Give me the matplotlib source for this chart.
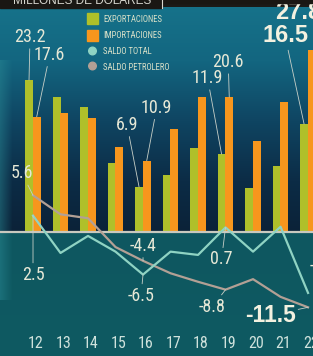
import numpy as np
import matplotlib
matplotlib.use("Agg")
import matplotlib.pyplot as plt
from matplotlib import font_manager
from matplotlib.colors import to_rgb

# datos (miles de millones de dolares)
anios = [12, 13, 14, 15, 16, 17, 18, 19, 20, 21, 22]
exportaciones = [23.2, 20.6, 19.1, 10.5, 6.9, 8.7, 12.8, 11.9, 6.7, 10.1, 16.5]
importaciones = [17.6, 18.2, 17.4, 13.0, 10.9, 15.7, 20.6, 20.6, 13.9, 19.9, 27.8]
saldo_total = [2.5, -3.2, -0.6, -3.0, -6.5, -3.0, -3.5, 0.7, -3.0, 0.8, -9.3]
saldo_petrolero = [5.6, 2.7, 2.1, -2.3, -4.4, -6.3, -7.6, -8.8, -7.2, -9.9, -11.5]
leyenda = ["EXPORTACIONES", "IMPORTACIONES", "SALDO TOTAL", "SALDO PETROLERO"]

VERDE = "#afc02a"
NARANJA = "#f7961d"
C_TOTAL = "#8fd3c3"
C_PETRO = "#b3a095"
TXT = "#e6e8d6"

# fuente estrecha si la hay
nombres = {f.name for f in font_manager.fontManager.ttflist}
NARROW = [n for n in ["Liberation Sans Narrow", "Roboto Condensed", "Liberation Sans"]
          if n in nombres][:1] + ["DejaVu Sans"]

W, H = 313, 356
fig = plt.figure(figsize=(W / 100, H / 100), dpi=100)

# fondo degradado
stops = [(0, "#1c1a17"), (6, "#1c1a17"), (7, "#16728a"), (60, "#136680"),
         (120, "#0f4562"), (180, "#0c2c46"), (231, "#0b2238"),
         (232, "#0e5760"), (356, "#0e5a62")]
rows = np.arange(H)
ys = [s[0] for s in stops]
cols = np.array([to_rgb(s[1]) for s in stops])
grad = np.stack([np.interp(rows, ys, cols[:, k]) for k in range(3)], axis=1)
bg = np.repeat(grad[:, None, :], W, axis=1)
light = np.array(to_rgb("#2a8a95"))
for x in range(12):
    w = (1 - x / 12) * 0.45
    bg[60:300, x, :] = bg[60:300, x, :] * (1 - w) + light * w
axbg = fig.add_axes([0, 0, 1, 1])
axbg.imshow(bg, extent=(0, W, H, 0), aspect="auto")
axbg.set_xlim(0, W)
axbg.set_ylim(H, 0)
axbg.axis("off")

# grafico principal
ax = fig.add_axes([0, 0, 1, 1], facecolor="none")
x = np.array(anios, dtype=float)
ax.bar(x - 0.145, exportaciones, width=0.29, color=VERDE, zorder=2)
ax.bar(x + 0.135, importaciones, width=0.28, color=NARANJA, zorder=2)
ax.axhline(0, color="#c9c9bf", lw=1.6, zorder=3)
ax.plot(x, saldo_petrolero, color=C_PETRO, lw=1.6, zorder=4)
ax.plot(x, saldo_total, color=C_TOTAL, lw=1.6, zorder=5)
ax.set_xlim(10.8, 22.18)
ax.set_ylim(-124 / 6.55, 232 / 6.55)
ax.axis("off")

for a in anios:
    ax.text(a + 0.1, 0.036, str(a), transform=ax.get_xaxis_transform(),
            ha="center", va="center", color="#cfe2dc", fontsize=11.5,
            family=NARROW)


def etiqueta(txt, xy, dx, dy, linea=True, bold=False, size=13, ha="center", color=TXT):
    kw = dict(textcoords="offset pixels", ha=ha, va="center", color=color,
              fontsize=size, zorder=6)
    if bold:
        kw.update(family=["Liberation Sans", "DejaVu Sans"], fontweight="bold")
    else:
        kw.update(family=NARROW)
    if linea:
        kw["arrowprops"] = dict(arrowstyle="-", color="#c8d0c8", lw=0.6,
                                shrinkA=0, shrinkB=0)
    ax.annotate(txt, xy=xy, xytext=(dx, dy), **kw)


def i(a):
    return anios.index(a)


etiqueta("23.2", (12 - 0.145, exportaciones[i(12)]), 1, 43)
etiqueta("17.6", (12 + 0.135, importaciones[i(12)]), 13, 62)
etiqueta("5.6", (12, saldo_petrolero[i(12)]), -11, 22)
etiqueta("2.5", (12, saldo_total[i(12)]), 0, -59)
etiqueta("6.9", (16 - 0.145, exportaciones[i(16)]), -12, 62)
etiqueta("10.9", (16 + 0.135, importaciones[i(16)]), 10, 53)
etiqueta("-4.4", (16, saldo_petrolero[i(16)]), 0, 15)
etiqueta("-6.5", (16, saldo_total[i(16)]), -2, -21)
etiqueta("11.9", (19 - 0.145, exportaciones[i(19)]), -14, 76)
etiqueta("20.6", (19 + 0.135, importaciones[i(19)]), -1, 35)
etiqueta("0.7", (19, saldo_total[i(19)]), -4, -32)
etiqueta("-8.8", (19, saldo_petrolero[i(19)]), -13, -17)
etiqueta("-11.5", (22, saldo_petrolero[i(22)]), -38, -8, bold=True, size=16.5, color="#f3f1e0")
etiqueta("16.5", (22 - 0.145, exportaciones[i(22)]), -19, 88, bold=True, size=17, color="#f3f1e0")
etiqueta("27.8", (22 + 0.135, importaciones[i(22)]), -37, 37, linea=False, bold=True,
         size=17, ha="left", color="#f3f1e0")
etiqueta("-9.3", (22, saldo_total[i(22)]), 2, 27, linea=False, ha="left")

# cabecera y leyenda (coordenadas en pixeles)
ov = fig.add_axes([0, 0, 1, 1], facecolor="none")
ov.set_xlim(0, W)
ov.set_ylim(H, 0)
ov.axis("off")
ov.add_patch(plt.Rectangle((0, 0), 162, 7.5, color="#1a1713", zorder=1))
ov.add_patch(plt.Rectangle((162, 0), W - 162, 3, color="#1a1713", zorder=1))
ov.plot([162, 162], [0, 8], color="#d8d8d0", lw=0.8, zorder=2)
ov.text(82, 0.5, "MILLONES DE DÓLARES", ha="center", va="center",
        color="#d8d8d0", fontsize=8.5, family=["Liberation Sans", "DejaVu Sans"],
        zorder=3)

ov.add_patch(plt.Rectangle((87, 13), 11, 11, color=VERDE))
ov.add_patch(plt.Rectangle((87, 30), 11, 11, color=NARANJA))
ov.scatter([92.5, 92.5], [51, 66], s=30, color=[C_TOTAL, C_PETRO], zorder=3)
for txt, yy in zip(leyenda, [19, 36, 52, 67]):
    ov.text(103, yy, txt, ha="left", va="center", color="#d8e0c8",
            fontsize=6.2, family=NARROW)

fig.savefig("out.png", dpi=100)
